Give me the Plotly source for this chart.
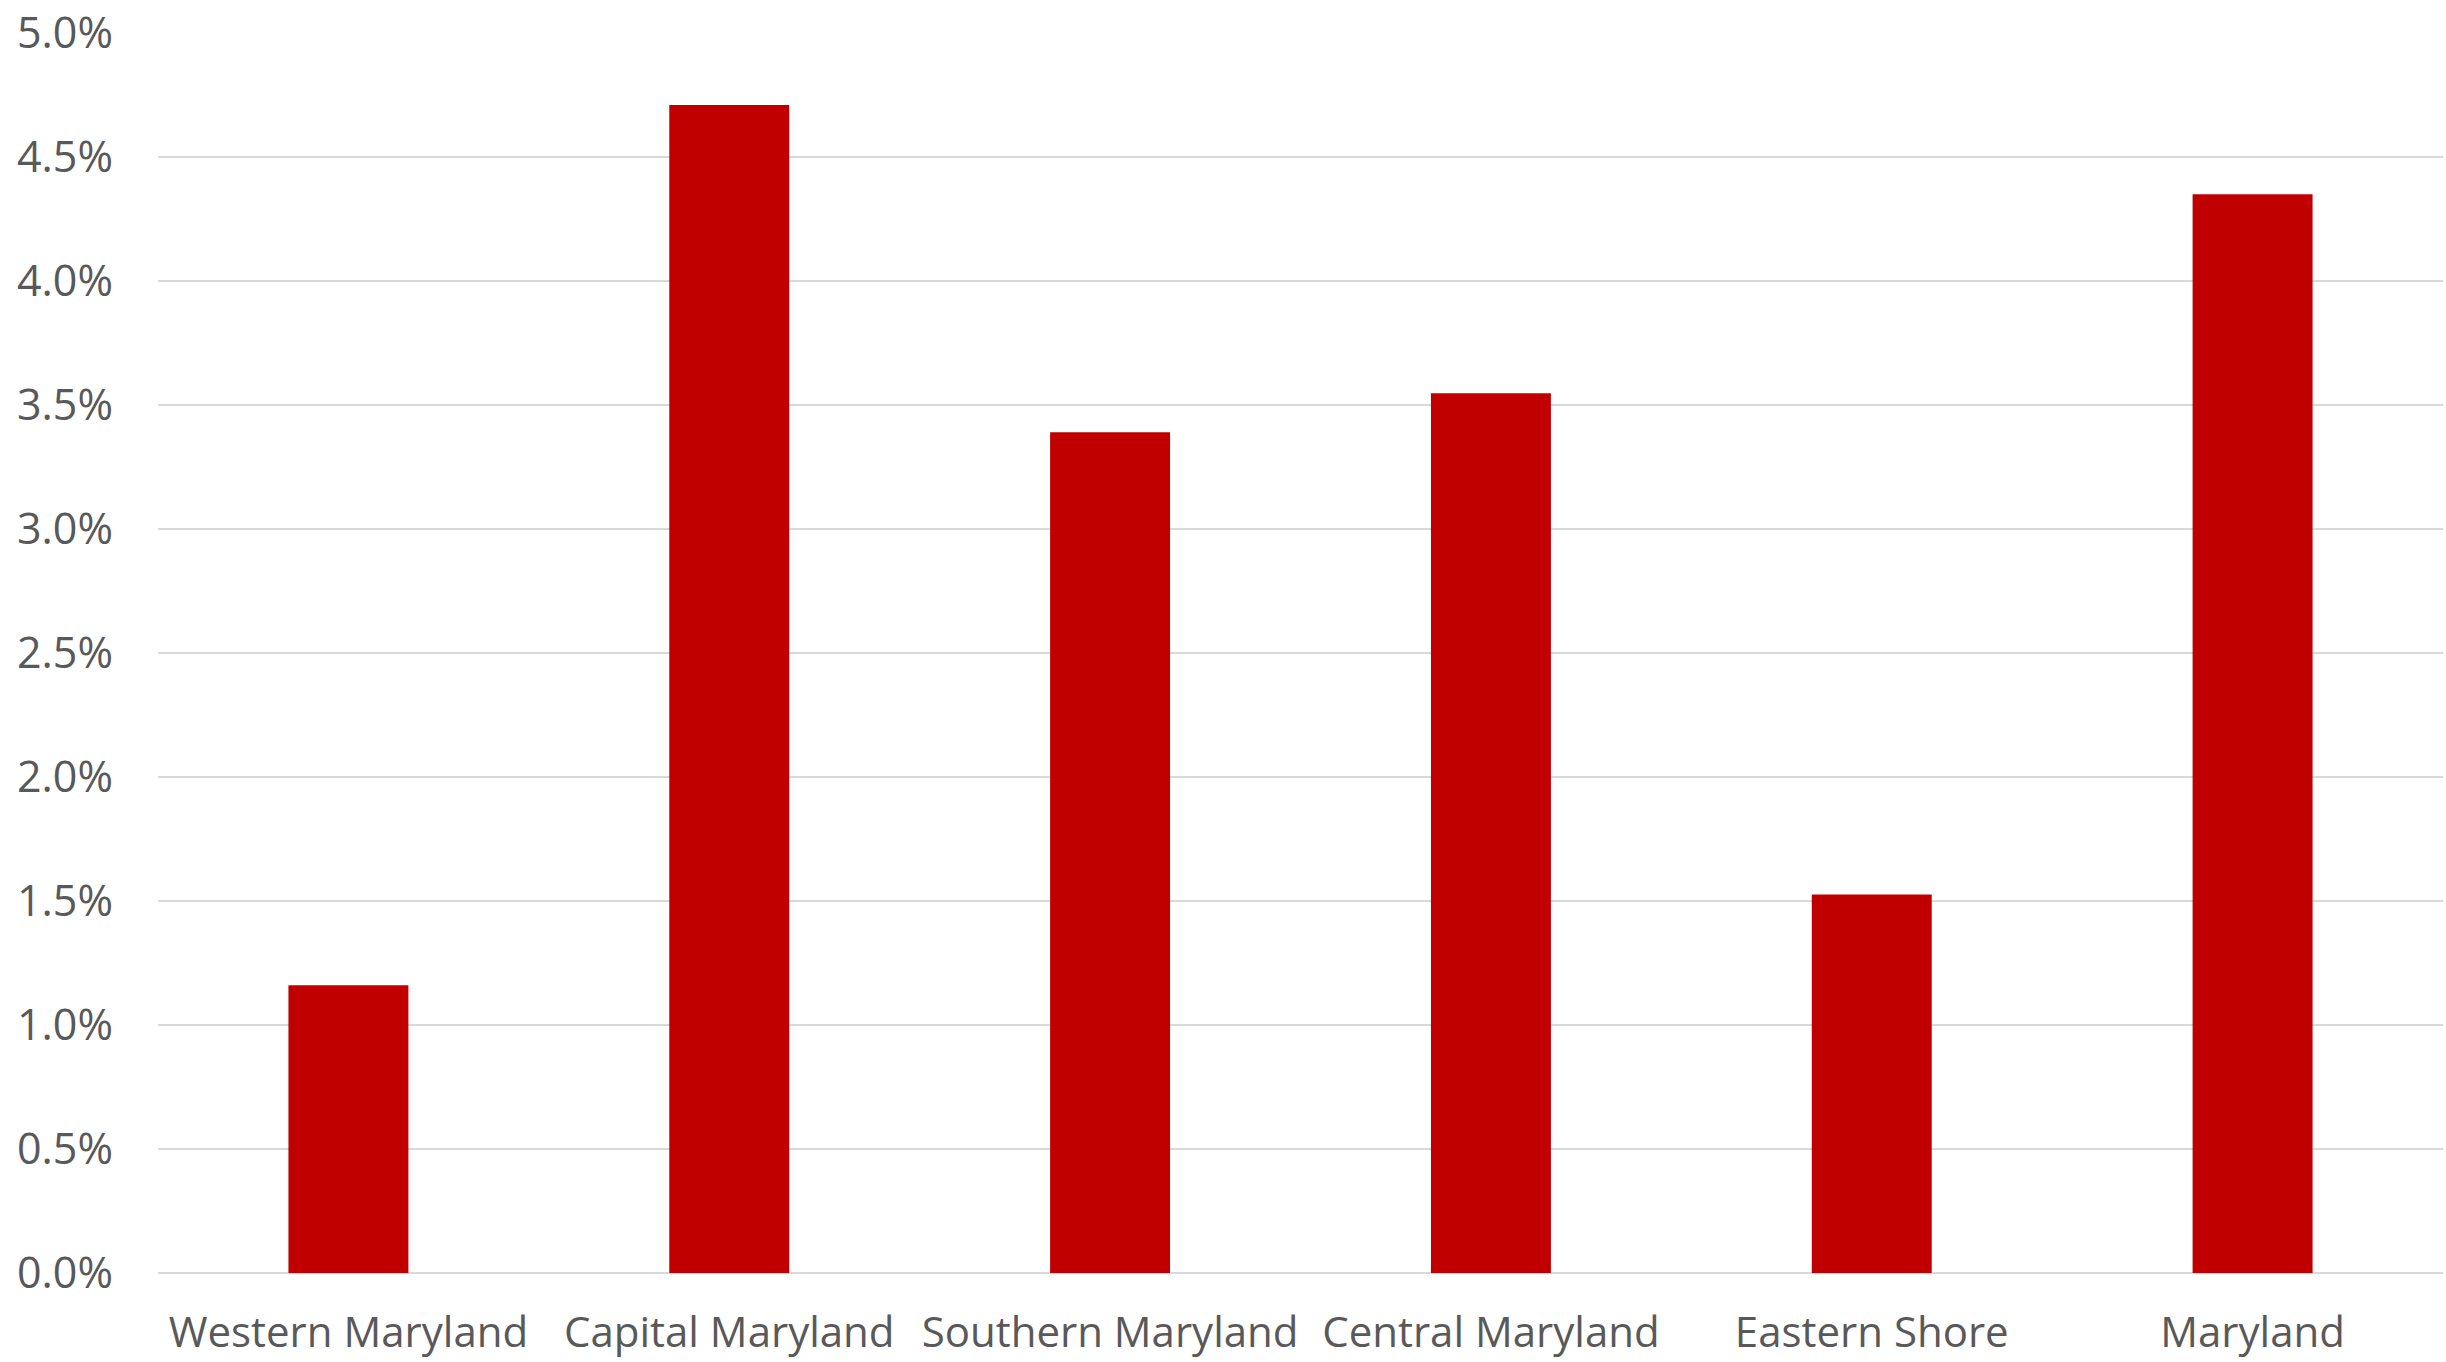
import plotly.graph_objects as go

categories = ["Western Maryland", "Capital Maryland", "Southern Maryland",
              "Central Maryland", "Eastern Shore", "Maryland"]
values = [1.16, 4.71, 3.39, 3.547, 1.526, 4.35]  # percent
y_ticks = [0.0, 0.5, 1.0, 1.5, 2.0, 2.5, 3.0, 3.5, 4.0, 4.5, 5.0]

fig = go.Figure(go.Bar(x=categories, y=values, marker=dict(color="#C00000", line=dict(width=0))))

fig.update_layout(
    width=2446, height=1362,
    margin=dict(l=158, r=3, t=33, b=89),
    paper_bgcolor="white", plot_bgcolor="white",
    bargap=0.685,
    showlegend=False,
    font=dict(family="Open Sans", size=42, color="#595959"),
)
fig.update_yaxes(
    range=[0, 5], tickvals=y_ticks, ticktext=[f"{v:.1f}%" for v in y_ticks],
    showgrid=True, gridcolor="#d9d9d9", gridwidth=2,
    zeroline=True, zerolinecolor="#d9d9d9", zerolinewidth=2,
    showline=False, ticks="", ticklabelstandoff=44, automargin=False,
    tickfont=dict(size=43),
)
fig.update_xaxes(
    showgrid=False, showline=False, ticks="", ticklabelstandoff=31, automargin=False,
    tickfont=dict(size=42),
)

fig.write_html("out.html", config={"displayModeBar": False},
               post_script="document.body.style.margin='0';document.body.style.overflow='hidden';")
